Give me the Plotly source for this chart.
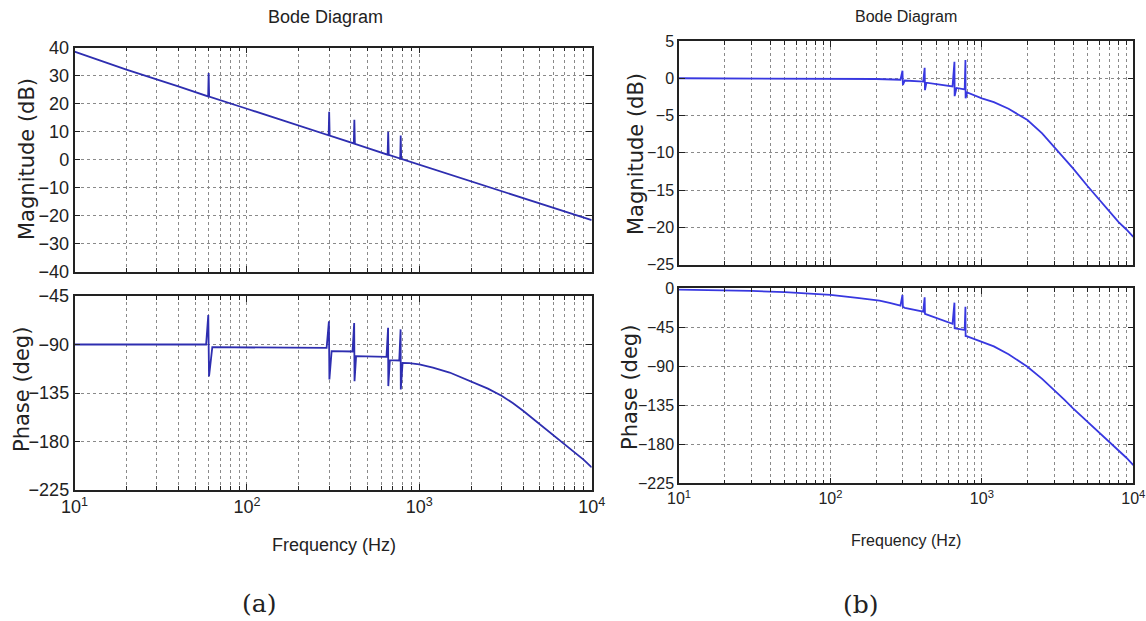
import plotly.graph_objects as go

# ---------------- data ----------------
# (a) magnitude
fa_mag = [10, 20, 40, 59.6, 60, 60.4, 100, 200, 298, 300, 302, 417, 420, 423,
          655, 660, 665, 775, 780, 785, 1000, 2000, 5000, 10000]
mag_a = [38.6, 32.2, 26.2, 22.6, 31.0, 22.5, 18.2, 12.2, 8.7, 17.1, 8.6, 5.8, 14.3, 5.7,
         1.8, 10.0, 1.7, 0.4, 8.6, 0.3, -1.8, -7.8, -15.8, -21.6]

# (a) phase
fa_ph = [10, 30, 58, 59.7, 60.3, 63, 100, 200, 290, 299, 301, 310, 410, 419, 421, 430,
         645, 659, 661, 675, 765, 779, 781, 800, 875, 1000, 1200, 1500, 2000, 2500, 3000,
         3500, 4000, 5000, 6000, 7000, 8000, 9000, 10000]
ph_a = [-90, -90, -90, -62.6, -119.7, -92.5, -92.8, -93, -93.2, -68.4, -122.4, -96.2,
        -96.5, -70, -124, -100.8, -101.4, -74.5, -128.6, -104.5, -104.8, -76, -131.7,
        -107, -107.2, -108.5, -111.5, -116, -124.5, -131, -137.5, -144.5, -151.5, -164,
        -175, -183.5, -190.5, -197, -204]

# (b) magnitude
fb_mag = [10, 100, 200, 290, 299, 301, 310, 410, 419, 421, 430, 640, 659, 661, 680,
          770, 779, 781, 800, 1000, 1200, 1500, 2000, 2500, 3000, 3500, 4000, 5000, 6000,
          7000, 8000, 9000, 10000]
mag_b = [0, 0, -0.1, -0.2, 1.0, -0.9, -0.3, -0.45, 1.4, -1.6, -0.6, -1.1, 2.2, -2.4, -1.3,
         -1.5, 2.45, -2.7, -1.9, -2.7, -3.2, -4.1, -5.6, -7.4, -9.2, -10.8, -12.1, -14.5,
         -16.4, -18.0, -19.3, -20.3, -21.3]

# (b) phase
fb_ph = [10, 20, 30, 50, 70, 100, 150, 211, 250, 290, 299, 301, 310, 410, 419, 421, 430,
         640, 659, 661, 680, 770, 779, 781, 800, 1000, 1200, 1500, 2000, 2500, 3000, 3500,
         4000, 5000, 6000, 7000, 8000, 9000, 10000]
ph_b = [-1.5, -2.3, -3, -4.5, -5.8, -7.5, -11, -14.3, -17, -20, -7.7, -21.5, -22.5, -27,
        -10.4, -29.5, -30, -41, -16.6, -46, -46.5, -48, -21.2, -55, -55.5, -61.6, -67, -76,
        -90.5, -104.5, -117, -128.5, -138.5, -154, -167, -178, -187, -195.5, -204]

# ticks
freq_ticks = [10, 100, 1000, 10000]
freq_labels = ["10<sup>1</sup>", "10<sup>2</sup>", "10<sup>3</sup>", "10<sup>4</sup>"]
freq_minor = [20, 30, 40, 50, 60, 70, 80, 90,
              200, 300, 400, 500, 600, 700, 800, 900,
              2000, 3000, 4000, 5000, 6000, 7000, 8000, 9000]
mag_a_ticks = [40, 30, 20, 10, 0, -10, -20, -30, -40]
phase_a_ticks = [-45, -90, -135, -180, -225]
mag_b_ticks = [5, 0, -5, -10, -15, -20, -25]
phase_b_ticks = [0, -45, -90, -135, -180, -225]

W, H = 1146, 621
def px(x):
    return x / W
def py(y):
    return 1 - y / H

SANS = "Liberation Sans, Arial, sans-serif"
col_a = "#2e2eb0"
col_b = "#3838e0"
grid = "#8a8a8a"

fig = go.Figure()
fig.add_trace(go.Scatter(x=fa_mag, y=mag_a, xaxis="x", yaxis="y", mode="lines",
                         line=dict(color=col_a, width=1.8), showlegend=False))
fig.add_trace(go.Scatter(x=fa_ph, y=ph_a, xaxis="x2", yaxis="y2", mode="lines",
                         line=dict(color=col_a, width=1.8), showlegend=False))
fig.add_trace(go.Scatter(x=fb_mag, y=mag_b, xaxis="x3", yaxis="y3", mode="lines",
                         line=dict(color=col_b, width=1.8), showlegend=False))
fig.add_trace(go.Scatter(x=fb_ph, y=ph_b, xaxis="x4", yaxis="y4", mode="lines",
                         line=dict(color=col_b, width=1.8), showlegend=False))

def xax(domain, anchor, labels, size):
    return dict(type="log", range=[1, 4], domain=domain, anchor=anchor,
                tickmode="array", tickvals=freq_ticks, ticktext=freq_labels,
                showticklabels=labels,
                showgrid=True, gridcolor=grid, griddash="dot", gridwidth=1,
                ticks="inside", ticklen=6, tickcolor="#222", mirror="allticks",
                minor=dict(tickmode="array", tickvals=freq_minor, showgrid=True,
                           gridcolor=grid, griddash="dot", gridwidth=1,
                           ticks="inside", ticklen=4, tickcolor="#222"),
                showline=True, linecolor="#222", linewidth=1.5, zeroline=False,
                tickfont=dict(family=SANS, size=size, color="#222"))

def yax(domain, anchor, rng, tv, size):
    return dict(range=rng, domain=domain, anchor=anchor, tickmode="array", tickvals=tv,
                showgrid=True, gridcolor=grid, griddash="dot", gridwidth=1,
                ticks="inside", ticklen=6, tickcolor="#222", mirror="allticks",
                showline=True, linecolor="#222", linewidth=1.5, zeroline=False,
                tickfont=dict(family=SANS, size=size, color="#222"))

xa = [px(74.5), px(591.7)]
xb = [px(679), px(1133.3)]

fig.update_layout(
    width=W, height=H, margin=dict(l=0, r=0, t=0, b=0, autoexpand=False),
    paper_bgcolor="white", plot_bgcolor="white",
    xaxis=xax(xa, "y", False, 18),
    yaxis=yax([py(271.7), py(47.7)], "x", [-40, 40], mag_a_ticks, 18),
    xaxis2=xax(xa, "y2", True, 18),
    yaxis2=yax([py(490), py(296)], "x2", [-225, -45], phase_a_ticks, 18),
    xaxis3=xax(xb, "y3", False, 16),
    yaxis3=yax([py(264.5), py(41)], "x3", [-25, 5], mag_b_ticks, 16),
    xaxis4=xax(xb, "y4", True, 16),
    yaxis4=yax([py(483.3), py(288.3)], "x4", [-225, 0], phase_b_ticks, 16),
)

def ann(text, x, y, fam, size, angle=0):
    fig.add_annotation(text=text, x=px(x), y=py(y), xref="paper", yref="paper",
                       showarrow=False, textangle=angle, xanchor="center", yanchor="middle",
                       font=dict(family=fam, size=size, color="#222"))

ann("Bode Diagram", 325, 17, SANS, 18)
ann("Bode Diagram", 906, 16, SANS, 16)
ann("Magnitude (dB)", 27, 159, "DejaVu Sans", 21, -90)
ann("Phase (deg)", 22, 390, "DejaVu Sans", 21, -90)
ann("Magnitude (dB)", 636, 154, "DejaVu Sans", 21, -90)
ann("Phase (deg)", 630, 388, "DejaVu Sans", 21, -90)
ann("Frequency (Hz)", 334, 545, SANS, 18)
ann("Frequency (Hz)", 906, 540, SANS, 16)
ann("(a)", 259, 603, "DejaVu Serif", 25)
ann("(b)", 861, 604, "DejaVu Serif", 25)

fig.write_html("out.html", config={"displayModeBar": False})

# remove the default page margin so the figure sits at the window's top-left corner
with open("out.html", "r", encoding="utf-8") as f:
    html = f.read()
html = html.replace("<head>", "<head><style>html,body{margin:0;padding:0;overflow:hidden;}</style>", 1)
with open("out.html", "w", encoding="utf-8") as f:
    f.write(html)
